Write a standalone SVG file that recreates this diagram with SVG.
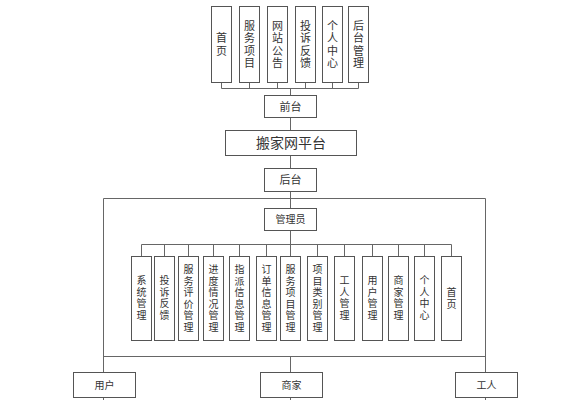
<svg xmlns="http://www.w3.org/2000/svg" width="568" height="400" viewBox="0 0 568 400">
<style>
.box{fill:#fff;stroke:#555;stroke-width:1}
.ln{fill:none;stroke:#666;stroke-width:1}
.t{font-family:"Liberation Sans","Noto Sans CJK SC",sans-serif;fill:#333;text-anchor:middle}
.s11{font-size:11px}
.s10{font-size:10px}
.s14{font-size:14px}
</style>
<rect width="568" height="400" fill="#fff"/>
<g id="connectors">
<path class="ln" d="M221.5 82V88.5H358.5V82M249.5 82V88.5M277.5 82V88.5M305.5 82V88.5M332.5 82V88.5M290.5 88.5V95"/>
<path class="ln" d="M290.5 117V130M290.5 155V168M290.5 191V208M290.5 230V244.5"/>
<path class="ln" d="M141.5 256V244.5H451.5V256M164.5 244.5V256M188.5 244.5V256M213.5 244.5V256M239.5 244.5V256M266.5 244.5V256M290.5 244.5V256M317.5 244.5V256M344.5 244.5V256M372.5 244.5V256M398.5 244.5V256M424.5 244.5V256"/>
<path class="ln" d="M103.5 372V198.5H485.5V372M103.5 356.5H485.5M290.5 356.5V372M103.5 397V400M290.5 397V400M485.5 397V400"/>
</g>
<g id="n-shouye"><rect class="box" x="211.5" y="6.5" width="20" height="76"/><text class="t s11" x="221.5" y="42">首<tspan x="221.5" dy="12.5">页</tspan></text></g>
<g id="n-fuwuxiangmu"><rect class="box" x="239.5" y="6.5" width="20" height="76"/><text class="t s11" x="249.5" y="29.5">服<tspan x="249.5" dy="12.5">务</tspan><tspan x="249.5" dy="12.5">项</tspan><tspan x="249.5" dy="12.5">目</tspan></text></g>
<g id="n-wangzhangonggao"><rect class="box" x="267.5" y="6.5" width="20" height="76"/><text class="t s11" x="277.5" y="29.5">网<tspan x="277.5" dy="12.5">站</tspan><tspan x="277.5" dy="12.5">公</tspan><tspan x="277.5" dy="12.5">告</tspan></text></g>
<g id="n-tousufankui"><rect class="box" x="295.5" y="6.5" width="20" height="76"/><text class="t s11" x="305.5" y="29.5">投<tspan x="305.5" dy="12.5">诉</tspan><tspan x="305.5" dy="12.5">反</tspan><tspan x="305.5" dy="12.5">馈</tspan></text></g>
<g id="n-gerenzhongxin"><rect class="box" x="322.5" y="6.5" width="20" height="76"/><text class="t s11" x="332.5" y="29.5">个<tspan x="332.5" dy="12.5">人</tspan><tspan x="332.5" dy="12.5">中</tspan><tspan x="332.5" dy="12.5">心</tspan></text></g>
<g id="n-houtaiguanli"><rect class="box" x="348.5" y="6.5" width="20" height="76"/><text class="t s11" x="358.5" y="29.5">后<tspan x="358.5" dy="12.5">台</tspan><tspan x="358.5" dy="12.5">管</tspan><tspan x="358.5" dy="12.5">理</tspan></text></g>
<g id="n-qiantai"><rect class="box" x="264.5" y="95.5" width="52" height="22"/><text class="t s11" x="290.5" y="110.5">前台</text></g>
<g id="n-platform"><rect class="box" x="225.5" y="130.5" width="131" height="25"/><text class="t s14" x="291" y="148">搬家网平台</text></g>
<g id="n-houtai"><rect class="box" x="264.5" y="168.5" width="52" height="23"/><text class="t s11" x="290.5" y="184">后台</text></g>
<g id="n-admin"><rect class="box" x="264.5" y="208.5" width="52" height="22"/><text class="t s10" x="290.5" y="223">管理员</text></g>
<g id="n-xitong"><rect class="box" x="131.5" y="256.5" width="20" height="84"/><text class="t s10" x="141.5" y="284">系<tspan x="141.5" dy="11.5">统</tspan><tspan x="141.5" dy="11.5">管</tspan><tspan x="141.5" dy="11.5">理</tspan></text></g>
<g id="n-tousu2"><rect class="box" x="154.5" y="256.5" width="20" height="84"/><text class="t s10" x="164.5" y="284">投<tspan x="164.5" dy="11.5">诉</tspan><tspan x="164.5" dy="11.5">反</tspan><tspan x="164.5" dy="11.5">馈</tspan></text></g>
<g id="n-pingjia"><rect class="box" x="178.5" y="256.5" width="20" height="84"/><text class="t s10" x="188.5" y="273">服<tspan x="188.5" dy="11.5">务</tspan><tspan x="188.5" dy="11.5">评</tspan><tspan x="188.5" dy="11.5">价</tspan><tspan x="188.5" dy="11.5">管</tspan><tspan x="188.5" dy="11.5">理</tspan></text></g>
<g id="n-jindu"><rect class="box" x="203.5" y="256.5" width="20" height="84"/><text class="t s10" x="213.5" y="273">进<tspan x="213.5" dy="11.5">度</tspan><tspan x="213.5" dy="11.5">情</tspan><tspan x="213.5" dy="11.5">况</tspan><tspan x="213.5" dy="11.5">管</tspan><tspan x="213.5" dy="11.5">理</tspan></text></g>
<g id="n-zhipai"><rect class="box" x="229.5" y="256.5" width="20" height="84"/><text class="t s10" x="239.5" y="273">指<tspan x="239.5" dy="11.5">派</tspan><tspan x="239.5" dy="11.5">信</tspan><tspan x="239.5" dy="11.5">息</tspan><tspan x="239.5" dy="11.5">管</tspan><tspan x="239.5" dy="11.5">理</tspan></text></g>
<g id="n-dingdan"><rect class="box" x="256.5" y="256.5" width="20" height="84"/><text class="t s10" x="266.5" y="273">订<tspan x="266.5" dy="11.5">单</tspan><tspan x="266.5" dy="11.5">信</tspan><tspan x="266.5" dy="11.5">息</tspan><tspan x="266.5" dy="11.5">管</tspan><tspan x="266.5" dy="11.5">理</tspan></text></g>
<g id="n-fuwuxm"><rect class="box" x="280.5" y="256.5" width="20" height="84"/><text class="t s10" x="290.5" y="273">服<tspan x="290.5" dy="11.5">务</tspan><tspan x="290.5" dy="11.5">项</tspan><tspan x="290.5" dy="11.5">目</tspan><tspan x="290.5" dy="11.5">管</tspan><tspan x="290.5" dy="11.5">理</tspan></text></g>
<g id="n-leibie"><rect class="box" x="307.5" y="256.5" width="20" height="84"/><text class="t s10" x="317.5" y="273">项<tspan x="317.5" dy="11.5">目</tspan><tspan x="317.5" dy="11.5">类</tspan><tspan x="317.5" dy="11.5">别</tspan><tspan x="317.5" dy="11.5">管</tspan><tspan x="317.5" dy="11.5">理</tspan></text></g>
<g id="n-gongrenguanli"><rect class="box" x="334.5" y="256.5" width="20" height="84"/><text class="t s10" x="344.5" y="284">工<tspan x="344.5" dy="11.5">人</tspan><tspan x="344.5" dy="11.5">管</tspan><tspan x="344.5" dy="11.5">理</tspan></text></g>
<g id="n-yonghuguanli"><rect class="box" x="362.5" y="256.5" width="20" height="84"/><text class="t s10" x="372.5" y="284">用<tspan x="372.5" dy="11.5">户</tspan><tspan x="372.5" dy="11.5">管</tspan><tspan x="372.5" dy="11.5">理</tspan></text></g>
<g id="n-shangjiaguanli"><rect class="box" x="388.5" y="256.5" width="20" height="84"/><text class="t s10" x="398.5" y="284">商<tspan x="398.5" dy="11.5">家</tspan><tspan x="398.5" dy="11.5">管</tspan><tspan x="398.5" dy="11.5">理</tspan></text></g>
<g id="n-geren2"><rect class="box" x="414.5" y="256.5" width="20" height="84"/><text class="t s10" x="424.5" y="284">个<tspan x="424.5" dy="11.5">人</tspan><tspan x="424.5" dy="11.5">中</tspan><tspan x="424.5" dy="11.5">心</tspan></text></g>
<g id="n-shouye2"><rect class="box" x="441.5" y="256.5" width="20" height="84"/><text class="t s10" x="451.5" y="296">首<tspan x="451.5" dy="11.5">页</tspan></text></g>
<g id="n-yonghu"><rect class="box" x="73.5" y="372.5" width="62" height="25"/><text class="t s10" x="104.5" y="388.5">用户</text></g>
<g id="n-shangjia"><rect class="box" x="260.5" y="372.5" width="62" height="25"/><text class="t s10" x="291.5" y="388.5">商家</text></g>
<g id="n-gongren"><rect class="box" x="455.5" y="372.5" width="62" height="25"/><text class="t s10" x="486.5" y="388.5">工人</text></g>
</svg>
